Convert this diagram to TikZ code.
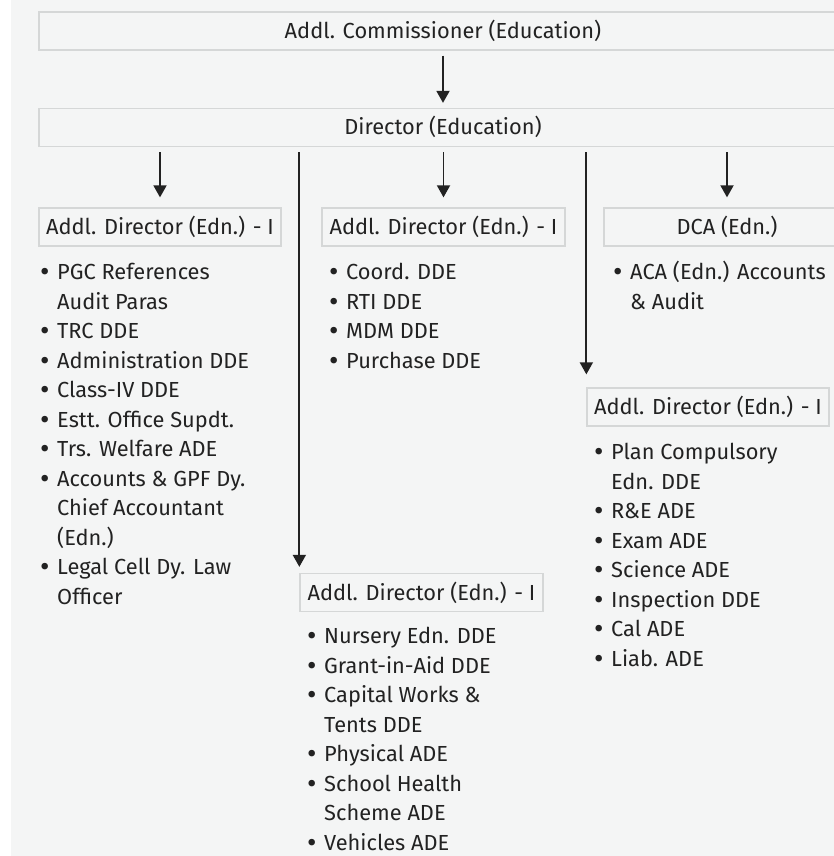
\documentclass[tikz,border=0pt]{standalone}
\usepackage{fontspec}
\setmainfont{Fira Sans}
\usetikzlibrary{arrows.meta}

\definecolor{pagebg}{HTML}{F4F5F5}
\definecolor{boxline}{HTML}{D5D7D7}
\definecolor{ink}{HTML}{222222}

\newcommand{\listfont}{\fontsize{21.8}{29.5}\selectfont}
\newcommand{\dotmark}{\raisebox{-1.8pt}{\fontsize{29}{0}\selectfont\textbullet}}
\newcommand{\bitem}[1]{\makebox[17pt][l]{\dotmark}#1}
\newcommand{\bcont}[1]{\hspace*{17pt}#1}
\newcommand{\firstline}{\rule{0pt}{20pt}}

\tikzset{
  orgbox/.style={draw=boxline, line width=1.3pt, fill=pagebg, text=ink,
    font=\fontsize{21.8}{25}\selectfont, inner sep=0pt,
    text height=15pt, text depth=0pt, minimum height=38pt},
  orglist/.style={anchor=north west, inner sep=0pt, align=left,
    font=\listfont, text=ink},
  link/.style={draw=ink, line width=1.8pt,
    -{Triangle[length=12pt,width=13pt]}},
}

\begin{document}
\begin{tikzpicture}[x=1pt,y=-1pt]
  \useasboundingbox (0,0) rectangle (834,856);
  \clip (0,0) rectangle (834,856);
  \fill[pagebg] (11,0) rectangle (834,856);

  % chain of command
  \node[orgbox, minimum width=808pt] (comm) at (443,31) {Addl. Commissioner (Education)};
  \node[orgbox, minimum width=808pt] (dir) at (443,127.5) {Director (Education)};

  \node[orgbox, minimum width=242pt] (adA) at (160,227) {Addl. Director (Edn.) - I};
  \node[orgbox, minimum width=243pt] (adB) at (443.5,227) {Addl. Director (Edn.) - I};
  \node[orgbox, minimum width=246pt] (dca) at (727,227) {DCA (Edn.)};
  \node[orgbox, minimum width=242pt] (adC) at (708,407) {Addl. Director (Edn.) - I};
  \node[orgbox, minimum width=243pt] (adD) at (421.5,592.5) {Addl. Director (Edn.) - I};

  % connectors
  \draw[link, shorten <=5pt, shorten >=5pt] (comm.south) -- (dir.north);
  \draw[link, shorten <=5pt, shorten >=10pt] (dir.south -| adA.north) -- (adA.north);
  \draw[link, shorten <=5pt, shorten >=10pt] (dir.south -| adB.north) -- (adB.north);
  \draw[link, shorten <=5pt, shorten >=10pt] (dir.south -| dca.north) -- (dca.north);
  \draw[link, shorten <=5pt, shorten >=6pt] (dir.south -| adD.north west) -- (adD.north west);
  \draw[link, shorten <=5pt, shorten >=13pt] (dir.south -| adC.north west) -- (adC.north west);

  % duties under each office
  \node[orglist] (listA) at (40,259.5) {\firstline\bitem{PGC References}\\
    \bcont{Audit Paras}\\
    \bitem{TRC DDE}\\
    \bitem{Administration DDE}\\
    \bitem{Class-IV DDE}\\
    \bitem{Estt. Office Supdt.}\\
    \bitem{Trs. Welfare ADE}\\
    \bitem{Accounts \& GPF Dy.}\\
    \bcont{Chief Accountant}\\
    \bcont{(Edn.)}\\
    \bitem{Legal Cell Dy. Law}\\
    \bcont{Officer}};

  \node[orglist] (listB) at (329,259.5) {\firstline\bitem{Coord. DDE}\\
    \bitem{RTI DDE}\\
    \bitem{MDM DDE}\\
    \bitem{Purchase DDE}};

  \node[orglist] (listDCA) at (613,259.5) {\firstline\bitem{ACA (Edn.) Accounts}\\
    \bcont{\& Audit}};

  \node[orglist] (listC) at (594,439.5) {\firstline\bitem{Plan Compulsory}\\
    \bcont{Edn. DDE}\\
    \bitem{R\&E ADE}\\
    \bitem{Exam ADE}\\
    \bitem{Science ADE}\\
    \bitem{Inspection DDE}\\
    \bitem{Cal ADE}\\
    \bitem{Liab. ADE}};

  \node[orglist] (listD) at (307,623.5) {\firstline\bitem{Nursery Edn. DDE}\\
    \bitem{Grant-in-Aid DDE}\\
    \bitem{Capital Works \&}\\
    \bcont{Tents DDE}\\
    \bitem{Physical ADE}\\
    \bitem{School Health}\\
    \bcont{Scheme ADE}\\
    \bitem{Vehicles ADE}};
\end{tikzpicture}
\end{document}
